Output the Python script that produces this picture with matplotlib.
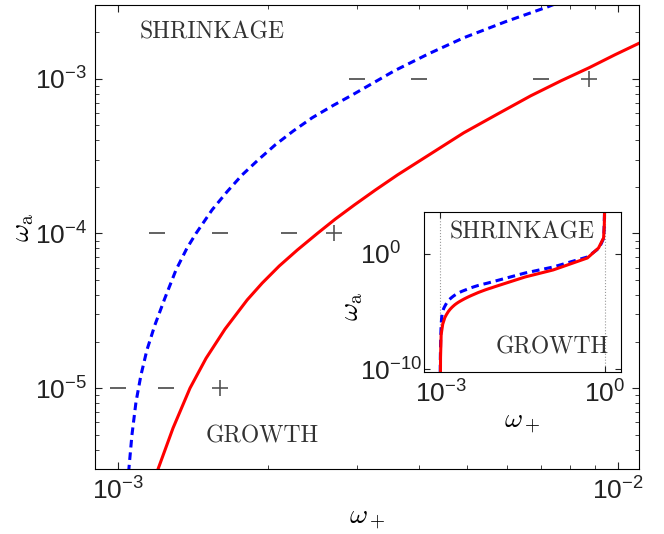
import matplotlib
matplotlib.use("Agg")
import matplotlib.pyplot as plt
from matplotlib.ticker import NullLocator

plt.rcParams['font.family'] = ['Liberation Sans', 'DejaVu Sans']

# boundary curves, shared by main plot and inset
blue_x = [0.99e-3, 0.995e-3, 1.01e-3, 1.03e-3, 1.052e-3, 1.067e-3, 1.087e-3, 1.112e-3,
          1.143e-3, 1.186e-3, 1.242e-3, 1.307e-3, 1.375e-3, 1.433e-3, 1.543e-3,
          1.653e-3, 1.772e-3, 1.908e-3, 2.064e-3, 2.243e-3, 2.447e-3, 2.685e-3,
          2.944e-3, 3.244e-3, 3.573e-3, 4.18e-3, 4.913e-3, 5.96e-3, 7.24e-3,
          3.5e-2, 0.115, 0.486, 0.8, 0.97, 1.0]
blue_y = [5e-11, 1e-9, 5e-8, 8e-7, 2.99e-6, 4.97e-6, 8.11e-6, 1.21e-5,
          1.76e-5, 2.56e-5, 3.82e-5, 5.81e-5, 8.05e-5, 1e-4, 1.42e-4,
          1.86e-4, 2.39e-4, 2.99e-4, 3.74e-4, 4.6e-4, 5.6e-4, 6.68e-4,
          7.87e-4, 9.42e-4, 1.127e-3, 1.45e-3, 1.84e-3, 2.34e-3, 2.92e-3,
          2.2e-2, 7.4e-2, 0.55, 3.3, 25, 4.5e3]

red_x = [1.0e-3, 1.003e-3, 1.03e-3, 1.1e-3, 1.203e-3, 1.289e-3, 1.394e-3, 1.501e-3,
         1.638e-3, 1.814e-3, 1.944e-3, 2.102e-3, 2.285e-3, 2.505e-3, 2.722e-3,
         2.972e-3, 3.273e-3, 3.623e-3, 4.22e-3, 4.913e-3, 5.75e-3, 6.69e-3,
         7.69e-3, 8.75e-3, 9.86e-3, 1.107e-2, 3.52e-2, 0.115, 0.486, 0.776,
         0.96, 0.99, 1.0]
red_y = [5e-11, 1e-9, 1e-7, 8e-7, 2.99e-6, 5.51e-6, 1e-5, 1.56e-5,
         2.41e-5, 3.72e-5, 4.78e-5, 6.16e-5, 7.82e-5, 1e-4, 1.24e-4,
         1.53e-4, 1.91e-4, 2.39e-4, 3.27e-4, 4.47e-4, 5.93e-4, 7.76e-4,
         9.7e-4, 1.178e-3, 1.43e-3, 1.71e-3, 1e-2, 4.1e-2, 0.45, 3.3,
         24.5, 300, 4.5e3]

# simulation outcomes: '-' shrinkage, '+' growth
minus_x = [3e-3, 4e-3, 7e-3, 1.2e-3, 1.6e-3, 2.2e-3, 1e-3, 1.25e-3]
minus_y = [1e-3, 1e-3, 1e-3, 1e-4, 1e-4, 1e-4, 1e-5, 1e-5]
plus_x = [8.75e-3, 2.7e-3, 1.6e-3]
plus_y = [1e-3, 1e-4, 1e-5]

dash = (0, (2.5, 1.6))
txt_kw = dict(family='cmr10', fontsize=17, color='#333333', ha='center', va='center')

fig = plt.figure(figsize=(6.64, 5.34), dpi=100)
ax = fig.add_axes([0.143, 0.1217, 0.819, 0.869])

ax.plot(blue_x, blue_y, color='#0000ff', lw=2.2, linestyle=dash)
ax.plot(red_x, red_y, color='#ff0000', lw=2.2)
ax.plot(minus_x, minus_y, linestyle='none', marker='_', ms=12, mew=1.3, color='#555555')
ax.plot(plus_x, plus_y, linestyle='none', marker='+', ms=12, mew=1.2, color='#555555')

ax.set_xscale('log')
ax.set_yscale('log')
ax.set_xlim(9e-4, 1.1e-2)
ax.set_ylim(3e-6, 3e-3)
ax.set_yticks([1e-5, 1e-4, 1e-3])
ax.set_xticks([1e-3, 1e-2])
ax.tick_params(which='both', direction='in', top=True, right=True, labelsize=19,
               colors='#222222')
ax.tick_params(which='major', length=5, pad=6)
ax.tick_params(which='minor', length=3)
ax.set_xlabel(r'$\omega_+$', math_fontfamily='cm', fontsize=20, labelpad=1)
ax.set_ylabel(r'$\omega_{\rm a}$', math_fontfamily='cm', fontsize=20)
ax.yaxis.set_label_coords(-0.108, 0.52)

ax.text(0.215, 0.94, 'SHRINKAGE', transform=ax.transAxes, **txt_kw)
ax.text(0.308, 0.071, 'GROWTH', transform=ax.transAxes, **txt_kw)

# inset: same curves over the full range
ins = fig.add_axes([424 / 664, 1 - 372 / 534, 197 / 664, 160 / 534])
ins.plot(blue_x, blue_y, color='#0000ff', lw=2.2, linestyle=dash)
ins.plot(red_x, red_y, color='#ff0000', lw=2.2)
ins.set_xscale('log')
ins.set_yscale('log')
ins.set_xlim(5e-4, 2)
ins.set_ylim(10 ** -10.26, 10 ** 3.65)
ins.set_xticks([1e-3, 1e0])
ins.set_yticks([1e-10, 1e0])
ins.xaxis.set_minor_locator(NullLocator())
ins.yaxis.set_minor_locator(NullLocator())
ins.grid(True, axis='x', linestyle=':', color='#999999', lw=0.8)
ins.tick_params(which='both', direction='in', top=True, right=True, labelsize=19,
                colors='#222222', length=4)
ins.tick_params(axis='x', pad=6)
ins.tick_params(axis='y', pad=46)
for lbl in ins.get_yticklabels():
    lbl.set_horizontalalignment('left')
ins.set_xlabel(r'$\omega_+$', math_fontfamily='cm', fontsize=20, labelpad=2)
ins.set_ylabel(r'$\omega_{\rm a}$', math_fontfamily='cm', fontsize=20)
ins.yaxis.set_label_coords(-0.30, 0.41)
ins.text(0.50, 0.875, 'SHRINKAGE', transform=ins.transAxes, **txt_kw)
ins.text(0.652, 0.156, 'GROWTH', transform=ins.transAxes, **txt_kw)

fig.savefig('out.png', dpi=100)
